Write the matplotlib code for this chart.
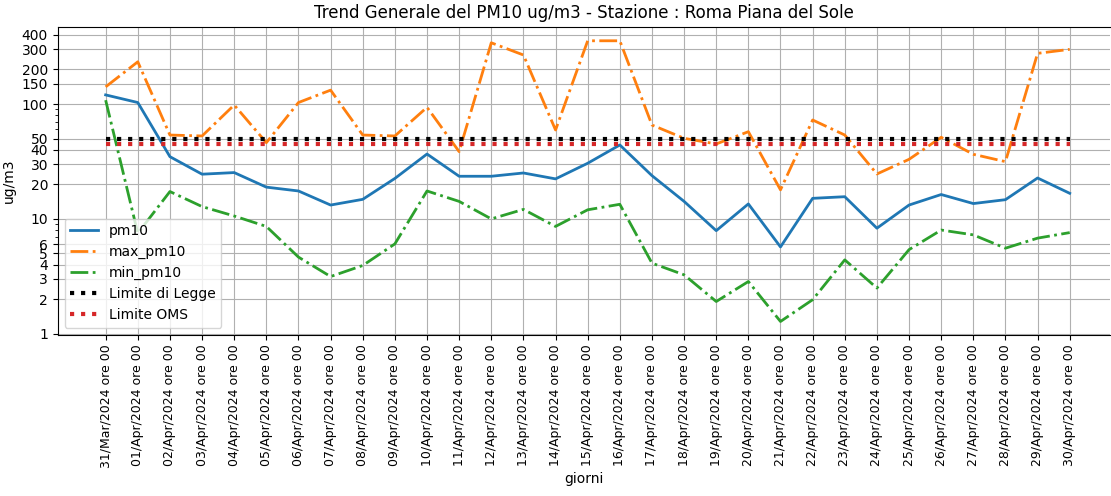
import matplotlib
matplotlib.use("Agg")
import matplotlib.pyplot as plt
from matplotlib.ticker import FixedLocator, FixedFormatter

# Giorni del mese (asse x)
giorni = ["31/Mar/2024 ore 00"] + ["%02d/Apr/2024 ore 00" % d for d in range(1, 31)]

# Valori (ug/m3)
pm10 = [120, 103, 34.8, 24.5, 25.3, 18.9, 17.5, 13.2, 14.8, 22.5,
        36.7, 23.5, 23.5, 25.1, 22.3, 30.5, 44, 23.8, 14.2, 7.9,
        13.5, 5.7, 15.1, 15.6, 8.3, 13.2, 16.3, 13.6, 14.7, 22.7, 16.7]
max_pm10 = [141, 233, 53.7, 52.7, 98, 46.1, 103, 132, 53.7, 52.7,
            93.6, 38.5, 341, 267, 59.4, 355, 355, 65.6, 50.3, 44.9,
            57.4, 17.9, 72.6, 53.7, 24.6, 33, 51.3, 36.5, 31.5, 276, 299]
min_pm10 = [108, 7.5, 17.3, 12.8, 10.6, 8.6, 4.65, 3.15, 3.93, 6.06,
            17.5, 14.2, 10, 12.1, 8.6, 12, 13.4, 4.12, 3.26, 1.91,
            2.85, 1.28, 1.98, 4.4, 2.5, 5.4, 8.0, 7.26, 5.56, 6.8, 7.6]
limite_legge = 50
limite_oms = 45

yticks = [1, 2, 3, 4, 5, 6, 10, 20, 30, 40, 50, 100, 150, 200, 300, 400]

fig = plt.figure(figsize=(11.11, 4.96), dpi=100)
ax = fig.add_axes([0.052, 0.325, 0.947, 0.621])

x = list(range(len(giorni)))
ax.plot(x, pm10, color="#1f77b4", lw=2, label="pm10")
ax.plot(x, max_pm10, color="#ff7f0e", lw=2, linestyle="-.", label="max_pm10")
ax.plot(x, min_pm10, color="#2ca02c", lw=2, linestyle="-.", label="min_pm10")
ax.plot(x, [limite_legge] * len(x), color="black", lw=3, linestyle=":", label="Limite di Legge")
ax.plot(x, [limite_oms] * len(x), color="#d62728", lw=3, linestyle=":", label="Limite OMS")

ax.set_yscale("log")
ax.yaxis.set_major_locator(FixedLocator(yticks))
ax.yaxis.set_major_formatter(FixedFormatter([str(t) for t in yticks]))
ax.set_ylim(0.98, 470)
ax.set_xlim(-1.49, 31.25)
ax.set_xticks(x)
ax.set_xticklabels(giorni, rotation=90, fontsize=9)
ax.tick_params(axis="y", labelsize=10)

ax.grid(True, color="#b0b0b0", lw=0.8)
ax.spines["right"].set_visible(False)

ax.set_title("Trend Generale del PM10 ug/m3 - Stazione : Roma Piana del Sole", fontsize=12)
ax.set_xlabel("giorni", fontsize=10, labelpad=3)
ax.set_ylabel("ug/m3", fontsize=10)
ax.legend(loc="lower left", fontsize=10)

fig.savefig("out.png", dpi=100)
